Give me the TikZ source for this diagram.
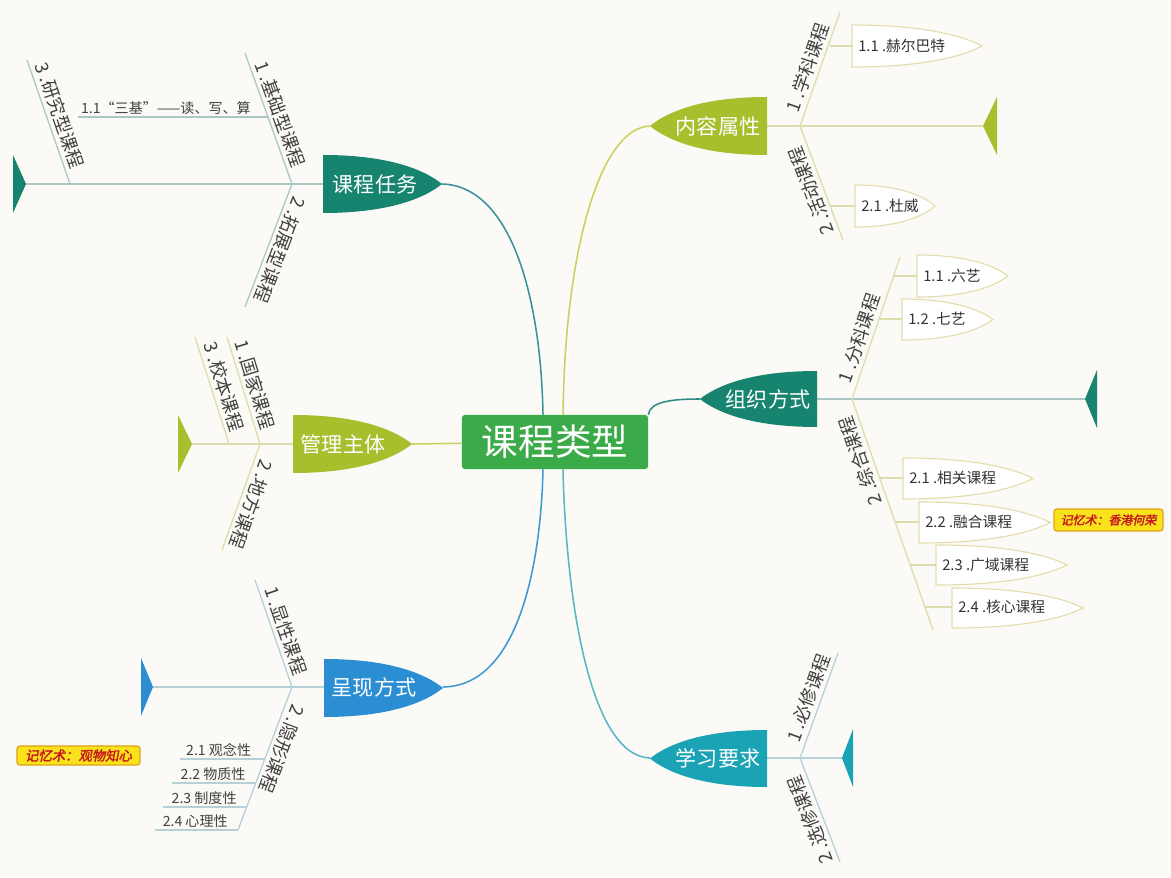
\documentclass[tikz,border=0pt]{standalone}
\usepackage{fontspec}
\setmainfont{Noto Sans CJK SC}
\newfontfamily\memofont[FakeSlant=0.2,FakeBold=2]{Noto Sans CJK SC}

\definecolor{fundo}{HTML}{FBFAF6}
\definecolor{verdeC}{HTML}{3BAA48}
\definecolor{tealE}{HTML}{16846F}
\definecolor{oliva}{HTML}{A8BE2D}
\definecolor{azul}{HTML}{2B8ED2}
\definecolor{ciano}{HTML}{1AA2B5}
\definecolor{lnTeal}{HTML}{3C929C}
\definecolor{lnOliva}{HTML}{C9D25C}
\definecolor{lnAzul}{HTML}{3D98D4}
\definecolor{lnCiano}{HTML}{5AB6C6}
\definecolor{lnZuzhi}{HTML}{2F8A84}
\definecolor{fioTeal}{HTML}{A9C7C3}
\definecolor{fioOliva}{HTML}{DCDDAC}
\definecolor{fioAzul}{HTML}{B6D0DA}
\definecolor{folhaBorda}{HTML}{E3DDAE}
\definecolor{memoFundo}{HTML}{F7E21B}
\definecolor{memoBorda}{HTML}{E0A21A}
\definecolor{memoTexto}{HTML}{C8141E}

% forma de bala: lado reto x=#1, topo #2, base #3, ponta x=#4
\newcommand{\bala}[5]{\path[#5] (#1,#2) .. controls ({#1+0.6*(#4-#1)},#2) and ({#4-0.12*(#4-#1)},{#2+0.3*(#3-#2)}) .. (#4,{0.5*(#2+#3)}) .. controls ({#4-0.12*(#4-#1)},{#3-0.3*(#3-#2)}) and ({#1+0.6*(#4-#1)},#3) .. (#1,#3) -- cycle;}

\tikzset{
  centro/.style={fill=verdeC, rounded corners=2pt, text=white, minimum width=4.65cm, minimum height=1.35cm, font=\fontsize{26}{30}\selectfont},
  ramo/.style={text=white, font=\fontsize{15}{17}\selectfont, inner sep=0pt},
  liga/.style={line width=1.1pt},
  fio/.style={line width=0.9pt},
  lbl/.style={font=\fontsize{13}{15}\selectfont, text=black!75, inner sep=2.5pt},
  folha/.style={draw=folhaBorda, fill=white, line width=0.8pt},
  folhatxt/.style={font=\fontsize{10.5}{12}\selectfont, text=black!80, anchor=west, inner xsep=0.15cm, inner ysep=0pt},
  subtxt/.style={font=\fontsize{10}{12}\selectfont, text=black!75, inner sep=1pt},
  memo/.style={draw=memoBorda, fill=memoFundo, rounded corners=2pt, line width=0.8pt, text=memoTexto, inner sep=0pt}
}

\begin{document}
\begin{tikzpicture}[x=0.025cm,y=-0.025cm]

% fundo
\fill[fundo] (0,0) rectangle (1171,878);

% no central
\node[centro] (centro) at (555,442) {课程类型};

% 课程任务
\coordinate (rw-ponta) at (442,184);
\coordinate (rw-base) at (323,184);
\coordinate (rw-cauda) at (26,184);
\coordinate (rw-j) at (292,184);
\coordinate (rw-e1) at (245,53);
\coordinate (rw-e2) at (245,307);
\coordinate (rw-j3) at (70,184);
\coordinate (rw-e3) at (27,60);
\coordinate (rw-a) at (268,117);
\coordinate (rw-b) at (78,117);

\draw[liga,lnTeal] (rw-ponta) .. controls (512,186) and (541,300) .. ([xshift=-0.3cm]centro.north);
\draw[fio,fioTeal] (rw-base) -- (rw-cauda);
\fill[tealE] (13,155) -- (rw-cauda) -- (13,213) -- cycle;
\draw[fio,fioTeal] (rw-j) -- (rw-e1) node[pos=.5,rotate=-70,anchor=south,lbl] {1 .基础型课程};
\draw[fio,fioTeal] (rw-j) -- (rw-e2) node[pos=.5,rotate=-111,anchor=south,lbl] {2 .拓展型课程};
\draw[fio,fioTeal] (rw-j3) -- (rw-e3) node[pos=.52,rotate=-71,anchor=south,lbl] {3 .研究型课程};
\draw[fio,fioTeal] (rw-a) -- (rw-b) node[pos=.08,anchor=south east,subtxt] {1.1“三基”——读、写、算};
\bala{323}{155}{213}{442}{fill=tealE}
\node[ramo] (renwu) at (375,184) {课程任务};

% 内容属性
\coordinate (nr-ponta) at (650,126);
\coordinate (nr-base) at (767,126);
\coordinate (nr-cauda) at (983,126);
\coordinate (nr-j) at (800,126);
\coordinate (nr-e1) at (840,12);
\coordinate (nr-e2) at (843,240);
\coordinate (nr-a) at (830,46);
\coordinate (nr-b) at (830,206);

\draw[liga,lnOliva] (nr-ponta) .. controls (600,128) and (565,250) .. ([xshift=0.2cm]centro.north);
\draw[fio,fioOliva] (nr-base) -- (nr-cauda);
\fill[oliva] (997,97) -- (nr-cauda) -- (997,155) -- cycle;
\draw[fio,fioOliva] (nr-j) -- (nr-e1) node[pos=.48,rotate=71,anchor=south,lbl] {1 .学科课程};
\draw[fio,fioOliva] (nr-j) -- (nr-e2) node[pos=.53,rotate=111,anchor=south,lbl] {2 .活动课程};
\bala{852}{25}{67}{982}{folha}
\node[folhatxt] (herbart) at (852,46) {1.1 .赫尔巴特};
\bala{855}{185}{227}{935}{folha}
\node[folhatxt] (duwei) at (855,206) {2.1 .杜威};
\draw[fio,fioOliva] (nr-a) -- (herbart);
\draw[fio,fioOliva] (nr-b) -- (duwei);
\bala{767}{97}{155}{650}{fill=oliva}
\node[ramo] (neirong) at (718,126) {内容属性};

% 组织方式
\coordinate (zz-ponta) at (700,399);
\coordinate (zz-base) at (817,399);
\coordinate (zz-cauda) at (1085,399);
\coordinate (zz-j) at (852,399);
\coordinate (zz-e1) at (900,257);
\coordinate (zz-e2) at (933,630);

\draw[liga,lnZuzhi] (zz-ponta) .. controls (670,399) and (650,402) .. (centro.north east);
\draw[fio,fioTeal] (zz-base) -- (zz-cauda);
\fill[tealE] (1097,370) -- (zz-cauda) -- (1097,428) -- cycle;
\draw[fio,fioOliva] (zz-j) -- (zz-e1) node[pos=.4,rotate=71,anchor=south,lbl] {1 .分科课程};
\draw[fio,fioOliva] (zz-j) -- (zz-e2) node[pos=.25,rotate=109,anchor=south,lbl] {2 .综合课程};
\bala{917}{255}{297}{1008}{folha}
\node[folhatxt] (liuyi) at (917,276) {1.1 .六艺};
\bala{902}{299}{340}{993}{folha}
\node[folhatxt] (qiyi) at (902,319) {1.2 .七艺};
\bala{903}{458}{499}{1033}{folha}
\node[folhatxt] (xiangguan) at (903,478) {2.1 .相关课程};
\bala{919}{502}{543}{1050}{folha}
\node[folhatxt] (ronghe) at (919,522) {2.2 .融合课程};
\bala{936}{545}{585}{1067}{folha}
\node[folhatxt] (guangyu) at (936,565) {2.3 .广域课程};
\bala{952}{588}{628}{1083}{folha}
\node[folhatxt] (hexin) at (952,607) {2.4 .核心课程};
\draw[fio,fioOliva] (894,276) -- (liuyi);
\draw[fio,fioOliva] (879,319) -- (qiyi);
\draw[fio,fioOliva] (880,478) -- (xiangguan);
\draw[fio,fioOliva] (895,522) -- (ronghe);
\draw[fio,fioOliva] (910,565) -- (guangyu);
\draw[fio,fioOliva] (925,607) -- (hexin);
\node[memo,minimum width=2.725cm,minimum height=0.55cm,font=\memofont\fontsize{8.5}{10}\selectfont] (memo1) at (1108.5,520) {记忆术：香港何荣};
\bala{817}{371}{427}{700}{fill=tealE}
\node[ramo] (zuzhi) at (768,399) {组织方式};

% 学习要求
\coordinate (xx-ponta) at (650,758);
\coordinate (xx-base) at (767,758);
\coordinate (xx-cauda) at (842,758);
\coordinate (xx-j) at (800,758);
\coordinate (xx-e1) at (838,653);
\coordinate (xx-e2) at (840,862);

\draw[liga,lnCiano] (xx-ponta) .. controls (590,756) and (566,600) .. ([xshift=0.2cm]centro.south);
\draw[fio,fioAzul] (xx-base) -- (xx-cauda);
\fill[ciano] (853,729) -- (xx-cauda) -- (853,787) -- cycle;
\draw[fio,fioAzul] (xx-j) -- (xx-e1) node[pos=.53,rotate=70,anchor=south,lbl] {1 .必修课程};
\draw[fio,fioAzul] (xx-j) -- (xx-e2) node[pos=.55,rotate=111,anchor=south,lbl] {2 .选修课程};
\bala{767}{730}{787}{650}{fill=ciano}
\node[ramo] (xuexi) at (718,758) {学习要求};

% 管理主体
\coordinate (gl-ponta) at (412,444);
\coordinate (gl-base) at (293,444);
\coordinate (gl-cauda) at (192,444);
\coordinate (gl-j) at (260,444);
\coordinate (gl-e1) at (227,337);
\coordinate (gl-e2) at (222,550);
\coordinate (gl-j3) at (229,444);
\coordinate (gl-e3) at (195,337);

\draw[liga,lnOliva] (gl-ponta) -- (centro);
\draw[fio,fioOliva] (gl-base) -- (gl-cauda);
\fill[oliva] (178,415) -- (gl-cauda) -- (178,473) -- cycle;
\draw[fio,fioOliva] (gl-j) -- (gl-e1) node[pos=.52,rotate=-73,anchor=south,lbl] {1 .国家课程};
\draw[fio,fioOliva] (gl-j3) -- (gl-e3) node[pos=.5,rotate=-72,anchor=south,lbl] {3 .校本课程};
\draw[fio,fioOliva] (gl-j) -- (gl-e2) node[pos=.53,rotate=-110,anchor=south,lbl] {2 .地方课程};
\bala{293}{415}{473}{412}{fill=oliva}
\node[ramo] (guanli) at (343,444) {管理主体};

% 呈现方式
\coordinate (cx-ponta) at (443,687);
\coordinate (cx-base) at (324,687);
\coordinate (cx-cauda) at (153,687);
\coordinate (cx-j) at (292,687);
\coordinate (cx-e1) at (255,580);
\coordinate (cx-e2) at (238,830);

\draw[liga,lnAzul] (cx-ponta) .. controls (520,686) and (541,560) .. ([xshift=-0.3cm]centro.south);
\draw[fio,fioAzul] (cx-base) -- (cx-cauda);
\fill[azul] (141,658) -- (cx-cauda) -- (141,716) -- cycle;
\draw[fio,fioAzul] (cx-j) -- (cx-e1) node[pos=.49,rotate=-71,anchor=south,lbl] {1 .显性课程};
\draw[fio,fioAzul] (cx-j) -- (cx-e2) node[pos=.4,rotate=-111,anchor=south,lbl] {2 .隐形课程};
\draw[fio,fioAzul] (265,759) -- (180,759) node[pos=.14,anchor=south east,subtxt] {2.1 观念性};
\draw[fio,fioAzul] (256,783) -- (172,783) node[pos=.1,anchor=south east,subtxt] {2.2 物质性};
\draw[fio,fioAzul] (247,807) -- (163,807) node[pos=.1,anchor=south east,subtxt] {2.3 制度性};
\draw[fio,fioAzul] (238,830) -- (155,830) node[pos=.1,anchor=south east,subtxt] {2.4 心理性};
\node[memo,minimum width=3.075cm,minimum height=0.475cm,font=\memofont\fontsize{9.5}{11}\selectfont] (memo2) at (78.5,755.5) {记忆术：观物知心};
\bala{324}{659}{717}{443}{fill=azul}
\node[ramo] (chengxian) at (374,687) {呈现方式};

\end{tikzpicture}
\end{document}
